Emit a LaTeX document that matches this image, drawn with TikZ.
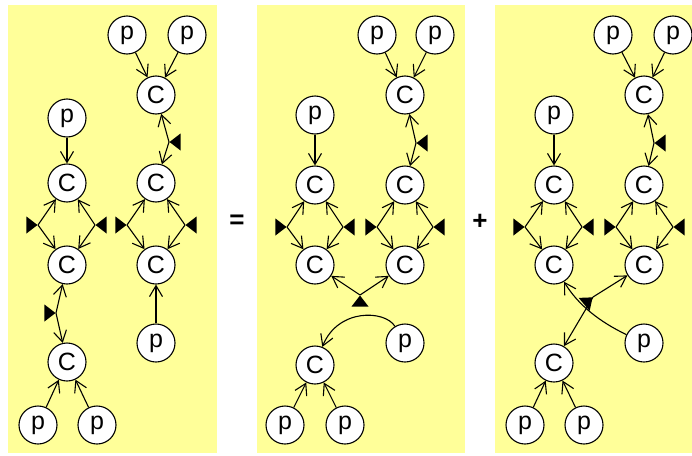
\documentclass[tikz,border=0pt]{standalone}
\usepackage{fontspec}
\setmainfont{Liberation Sans}
\usetikzlibrary{arrows.meta,shapes.geometric}
\definecolor{panelyellow}{RGB}{255,255,153}
\tikzset{%
    atom/.style={circle, draw, fill=white, line width=1.1pt, minimum size=38pt,
        inner sep=0pt, font=\fontsize{25}{25}\selectfont},
    tri/.style={isosceles triangle, isosceles triangle stretches, fill,
        inner sep=0pt, minimum width=17pt, minimum height=11pt, anchor=apex},
    link/.style={line width=1.1pt,
        -{Straight Barb[length=11pt,width=13pt]}},
    panel/.style={fill=panelyellow, draw=none}
}

\begin{document}
\begin{tikzpicture}[x=1pt, y=-1pt]
	\useasboundingbox (0,0) rectangle (692,455);
	\fill[panel] (8,5) rectangle (217,453);
	\fill[panel] (257,5) rectangle (465,453);
	\fill[panel] (495,5) rectangle (692,453);
	\node[font=\fontsize{26}{26}\selectfont\bfseries] (eq) at (237,222) {=};
	\node[font=\fontsize{26}{26}\selectfont\bfseries] (plus) at (480,222) {+};

	% left side
	\node[atom] (apt1) at (127,35) {p};
	\node[atom] (apt2) at (187,35) {p};
	\node[atom] (aCt) at (156,95) {C};
	\node[atom] (apl) at (67,118) {p};
	\node[atom] (aCl1) at (67,183) {C};
	\node[atom] (aCl2) at (67,265) {C};
	\node[atom] (aCb) at (67,362) {C};
	\node[atom] (aCr1) at (156,183) {C};
	\node[atom] (aCr2) at (156,265) {C};
	\node[atom] (apr) at (156,343) {p};
	\node[atom] (apb1) at (38,425) {p};
	\node[atom] (apb2) at (97,425) {p};
	\node[tri, rotate=180] (at1) at (169,142) {};
	\node[tri] (at2) at (38,225) {};
	\node[tri, rotate=180] (at3) at (95,225) {};
	\node[tri] (at4) at (127,225) {};
	\node[tri, rotate=180] (at5) at (185,225) {};
	\node[tri] (at6) at (56,313) {};
	\draw[link] (apt1) -- (aCt);
	\draw[link] (apt2) -- (aCt);
	\draw[link] (apl) -- (aCl1);
	\draw[link] (apr) -- (aCr2);
	\draw[link] (apb1) -- (aCb);
	\draw[link] (apb2) -- (aCb);
	\draw[link] (at1.apex) -- (aCt);
	\draw[link] (at1.apex) -- (aCr1);
	\draw[link] (at2.apex) -- (aCl1);
	\draw[link] (at2.apex) -- (aCl2);
	\draw[link] (at3.apex) -- (aCl1);
	\draw[link] (at3.apex) -- (aCl2);
	\draw[link] (at4.apex) -- (aCr1);
	\draw[link] (at4.apex) -- (aCr2);
	\draw[link] (at5.apex) -- (aCr1);
	\draw[link] (at5.apex) -- (aCr2);
	\draw[link] (at6.apex) -- (aCl2);
	\draw[link] (at6.apex) -- (aCb);

	% middle
	\node[atom] (bpt1) at (377,35) {p};
	\node[atom] (bpt2) at (435,35) {p};
	\node[atom] (bCt) at (405,95) {C};
	\node[atom] (bpl) at (315,115) {p};
	\node[atom] (bCl1) at (315,185) {C};
	\node[atom] (bCl2) at (315,265) {C};
	\node[atom] (bCr1) at (405,185) {C};
	\node[atom] (bCr2) at (405,265) {C};
	\node[atom] (bpr) at (405,343) {p};
	\node[atom] (bCb) at (315,365) {C};
	\node[atom] (bpb1) at (285,425) {p};
	\node[atom] (bpb2) at (345,425) {p};
	\node[tri, rotate=180] (bt1) at (416,143) {};
	\node[tri] (bt2) at (287,227) {};
	\node[tri, rotate=180] (bt3) at (343,227) {};
	\node[tri] (bt4) at (377,227) {};
	\node[tri, rotate=180] (bt5) at (433,227) {};
	\node[tri, rotate=90] (bt6) at (360,295) {};
	\draw[link] (bpt1) -- (bCt);
	\draw[link] (bpt2) -- (bCt);
	\draw[link] (bpl) -- (bCl1);
	\draw[link] (bpb1) -- (bCb);
	\draw[link] (bpb2) -- (bCb);
	\draw[link] (bt1.apex) -- (bCt);
	\draw[link] (bt1.apex) -- (bCr1);
	\draw[link] (bt2.apex) -- (bCl1);
	\draw[link] (bt2.apex) -- (bCl2);
	\draw[link] (bt3.apex) -- (bCl1);
	\draw[link] (bt3.apex) -- (bCl2);
	\draw[link] (bt4.apex) -- (bCr1);
	\draw[link] (bt4.apex) -- (bCr2);
	\draw[link] (bt5.apex) -- (bCr1);
	\draw[link] (bt5.apex) -- (bCr2);
	\draw[link] (bt6.apex) -- (bCl2);
	\draw[link] (bt6.apex) -- (bCr2);
	\draw[link] (bpr) .. controls (385,310) and (338,308) .. (bCb);

	% right side
	\node[atom] (cpt1) at (613,35) {p};
	\node[atom] (cpt2) at (673,35) {p};
	\node[atom] (cCt) at (644,95) {C};
	\node[atom] (cpl) at (554,115) {p};
	\node[atom] (cCl1) at (554,185) {C};
	\node[atom] (cCl2) at (554,265) {C};
	\node[atom] (cCr1) at (644,185) {C};
	\node[atom] (cCr2) at (644,265) {C};
	\node[atom] (cpr) at (644,343) {p};
	\node[atom] (cCb) at (554,363) {C};
	\node[atom] (cpb1) at (525,425) {p};
	\node[atom] (cpb2) at (584,425) {p};
	\node[tri, rotate=180] (ct1) at (654,143) {};
	\node[tri] (ct2) at (525,227) {};
	\node[tri, rotate=180] (ct3) at (582,227) {};
	\node[tri] (ct4) at (616,227) {};
	\node[tri, rotate=180] (ct5) at (673,227) {};
	\node[tri, rotate=40] (ct6) at (593,297) {};
	\draw[link] (cpt1) -- (cCt);
	\draw[link] (cpt2) -- (cCt);
	\draw[link] (cpl) -- (cCl1);
	\draw[link] (cpb1) -- (cCb);
	\draw[link] (cpb2) -- (cCb);
	\draw[link] (ct1.apex) -- (cCt);
	\draw[link] (ct1.apex) -- (cCr1);
	\draw[link] (ct2.apex) -- (cCl1);
	\draw[link] (ct2.apex) -- (cCl2);
	\draw[link] (ct3.apex) -- (cCl1);
	\draw[link] (ct3.apex) -- (cCl2);
	\draw[link] (ct4.apex) -- (cCr1);
	\draw[link] (ct4.apex) -- (cCr2);
	\draw[link] (ct5.apex) -- (cCr1);
	\draw[link] (ct5.apex) -- (cCr2);
	\draw[link] (ct6.apex) -- (cCr2);
	\draw[link] (ct6.apex) -- (cCb);
	\draw[link] (cpr) .. controls (600,322) and (578,305) .. (cCl2);
\end{tikzpicture}
\end{document}
